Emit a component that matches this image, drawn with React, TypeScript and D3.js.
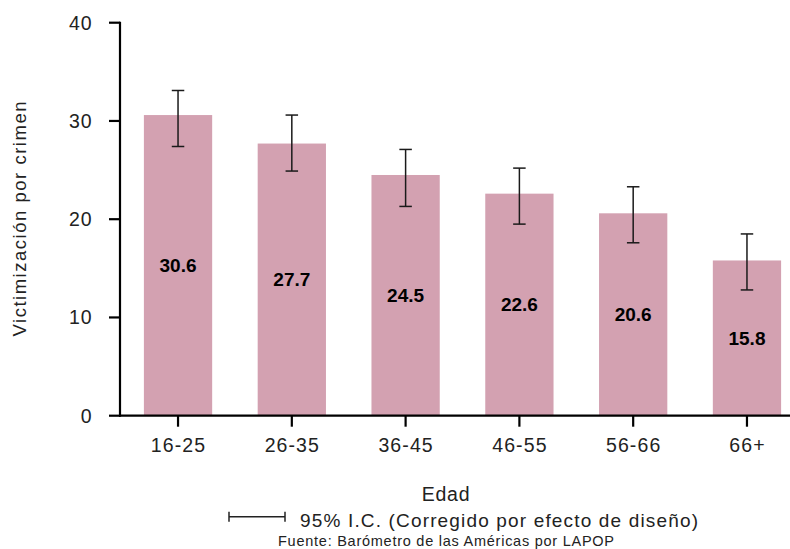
import React from "react";
import * as d3 from "d3";

const categories = ["16-25", "26-35", "36-45", "46-55", "56-66", "66+"];
const values = [30.6, 27.7, 24.5, 22.6, 20.6, 15.8];
const ciLow = [27.4, 24.9, 21.3, 19.5, 17.6, 12.8];
const ciHigh = [33.1, 30.6, 27.1, 25.2, 23.3, 18.5];
const yTicks = [0, 10, 20, 30, 40];

const W = 790;
const H = 549;
const FONT = "'Liberation Sans', Arial, Helvetica, sans-serif";

export default function App() {
  const x = d3
    .scaleBand<string>()
    .domain(categories)
    .range([120, 805])
    .paddingInner(0.4)
    .paddingOuter(0.21);
  const y = d3.scaleLinear().domain([0, 40]).range([415.7, 22.7]);
  const bw = x.bandwidth();
  const capW = 12.5;

  return (
    <svg
      width={W}
      height={H}
      style={{ position: "absolute", left: 0, top: 0, background: "#fff" }}
      fontFamily={FONT}
    >
      {/* bars */}
      {categories.map((c, i) => (
        <rect
          key={c}
          x={x(c)!}
          y={y(values[i])}
          width={bw}
          height={y(0) - y(values[i])}
          fill="#d3a1b1"
        />
      ))}
      {/* error bars */}
      {categories.map((c, i) => {
        const cx = x(c)! + bw / 2;
        return (
          <g key={c} stroke="#1a1a1a" strokeWidth={1.5}>
            <line x1={cx} x2={cx} y1={y(ciHigh[i])} y2={y(ciLow[i])} />
            <line x1={cx - capW / 2} x2={cx + capW / 2} y1={y(ciHigh[i])} y2={y(ciHigh[i])} />
            <line x1={cx - capW / 2} x2={cx + capW / 2} y1={y(ciLow[i])} y2={y(ciLow[i])} />
          </g>
        );
      })}
      {/* value labels */}
      {categories.map((c, i) => (
        <text
          key={c}
          x={x(c)! + bw / 2}
          y={(y(values[i]) + y(0)) / 2}
          dy="0.35em"
          textAnchor="middle"
          fontWeight="bold"
          fontSize={19}
          fill="#000"
        >
          {values[i].toFixed(1)}
        </text>
      ))}
      {/* y axis */}
      <line x1={120} x2={120} y1={y(40) - 1} y2={y(0) + 1} stroke="#000" strokeWidth={2.2} />
      {yTicks.map((t) => (
        <g key={t}>
          <line x1={109} x2={120} y1={y(t)} y2={y(t)} stroke="#000" strokeWidth={2.2} />
          <text x={92.7} y={y(t)} dy="0.36em" textAnchor="end" fontSize={19.5} fill="#222" letterSpacing={1}>
            {t}
          </text>
        </g>
      ))}
      {/* x axis */}
      <line x1={119} x2={W} y1={y(0)} y2={y(0)} stroke="#000" strokeWidth={2.2} />
      {categories.map((c) => {
        const cx = x(c)! + bw / 2;
        return (
          <g key={c}>
            <line x1={cx} x2={cx} y1={y(0)} y2={y(0) + 11} stroke="#000" strokeWidth={2.2} />
            <text x={cx + 0.5} y={452} textAnchor="middle" fontSize={19.5} fill="#222" letterSpacing={1.1}>
              {c}
            </text>
          </g>
        );
      })}
      {/* axis titles */}
      <text
        transform={`translate(26,219) rotate(-90)`}
        textAnchor="middle"
        fontSize={18.5}
        fill="#222"
        textLength={235}
        lengthAdjust="spacing"
      >
        Victimización por crimen
      </text>
      <text x={446} y={501} textAnchor="middle" fontSize={19.5} fill="#222" letterSpacing={0.8}>
        Edad
      </text>
      {/* legend */}
      <g stroke="#222" strokeWidth={1.5}>
        <line x1={229} x2={285} y1={516.7} y2={516.7} />
        <line x1={229} x2={229} y1={511.7} y2={521.7} />
        <line x1={285} x2={285} y1={511.7} y2={521.7} />
      </g>
      <text x={300} y={527} fontSize={19} fill="#222" textLength={398} lengthAdjust="spacing">
        95% I.C. (Corregido por efecto de diseño)
      </text>
      <text
        x={278}
        y={545.5}
        fontSize={14.5}
        fill="#222"
        textLength={336}
        lengthAdjust="spacing"
      >
        Fuente: Barómetro de las Américas por LAPOP
      </text>
    </svg>
  );
}
